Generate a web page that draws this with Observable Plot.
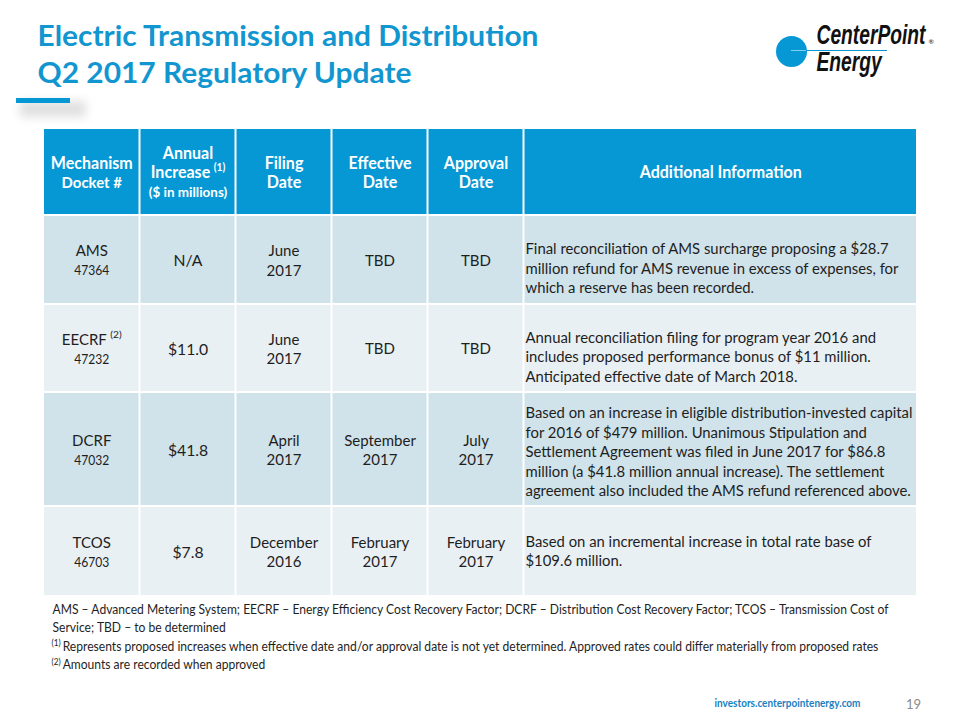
<!DOCTYPE html>
<html>
<head>
<meta charset="utf-8">
<script src="https://cdn.jsdelivr.net/npm/d3@7"></script>
<script src="https://cdn.jsdelivr.net/npm/@observablehq/plot@0.6"></script>
<style>
  html, body { margin: 0; padding: 0; background: #ffffff; }
  #chart svg { display: block; }
</style>
</head>
<body>
<div id="chart"></div>
<script>
// ---------------- DATA ----------------
const titleLines = ["Electric Transmission and Distribution", "Q2 2017 Regulatory Update"];
const headerMain = ["Mechanism", "Annual", "Filing", "Effective", "Approval", "Additional Information"];
const headerSecond = ["Docket #", "Increase", "Date", "Date", "Date", ""];
const headerThird = ["", "($ in millions)", "", "", "", ""];
const headerNotes = ["", "(1)", "", "", "", ""];
const mechanisms = ["AMS", "EECRF", "DCRF", "TCOS"];
const mechanismNotes = ["", "(2)", "", ""];
const dockets = ["47364", "47232", "47032", "46703"];
const annualIncrease = ["N/A", "$11.0", "$41.8", "$7.8"];
const filingDates = [["June", "2017"], ["June", "2017"], ["April", "2017"], ["December", "2016"]];
const effectiveDates = [["TBD"], ["TBD"], ["September", "2017"], ["February", "2017"]];
const approvalDates = [["TBD"], ["TBD"], ["July", "2017"], ["February", "2017"]];
const additionalInfo = [
  ["Final reconciliation of AMS surcharge proposing a $28.7",
   "million refund for AMS revenue in excess of expenses, for",
   "which a reserve has been recorded."],
  ["Annual reconciliation filing for program year 2016 and",
   "includes proposed performance bonus of $11 million.",
   "Anticipated effective date of March 2018."],
  ["Based on an increase in eligible distribution-invested capital",
   "for 2016 of $479 million. Unanimous Stipulation and",
   "Settlement Agreement was filed in June 2017 for $86.8",
   "million (a $41.8 million annual increase). The settlement",
   "agreement also included the AMS refund referenced above."],
  ["Based on an incremental increase in total rate base of",
   "$109.6 million."]
];
const glossaryLines = [
  "AMS \u2013 Advanced Metering System; EECRF \u2013 Energy Efficiency Cost Recovery Factor; DCRF \u2013 Distribution Cost Recovery Factor; TCOS \u2013 Transmission Cost of",
  "Service; TBD \u2013 to be determined"
];
const footnoteMarks = ["(1)", "(2)"];
const footnoteTexts = [
  "Represents proposed increases when effective date and/or approval date is not yet determined. Approved rates could differ materially from proposed rates",
  "Amounts are recorded when approved"
];
const logoWords = ["CenterPoint", "Energy"];
const footerUrl = "investors.centerpointenergy.com";
const pageNumber = "19";

// ---------------- LAYOUT / STYLE ----------------
const BLUE = "#0598d4";
const TITLE_BLUE = "#1296d0";
const ROW_DARK = "#d0e2ea";
const ROW_LIGHT = "#e9f0f4";
const INK = "#1e1e1e";
const FONT = "Lato, 'Open Sans', sans-serif";
const colEdges = [43, 139.5, 235.5, 331.5, 427.5, 523.5, 917];
const rowEdges = [128, 215, 304, 392, 506, 596];
const infoShift = [9, 9, 3, 0];
const infoX = 525;
const lineStep = 19.5;

// text measuring (font sizes / squeeze factors that fit the reference widths)
const ctx = document.createElement("canvas").getContext("2d");
function measure(text, size, weight = "normal", family = FONT, style = "normal") {
  ctx.font = `${style} ${weight} ${size}px ${family}`;
  return ctx.measureText(text).width;
}
const titleSize = 28;
const titleSqueeze = 501 / measure(titleLines[0], titleSize, "bold");
const headSize = 16.5;
const headSqueeze = Math.min(1, 82 / measure(headerMain[0], headSize, "bold"));
const cellSize = 15;
const cellSqueeze = Math.min(1, 79 / measure("September", cellSize));
const docketSize = 13.5;
const docketSqueeze = Math.min(1, 35 / measure(dockets[0], docketSize));
const infoSize = 15.5;
const infoSqueeze = 387 / measure(additionalInfo[2][0], infoSize);
const noteSize = 13.5;
const noteSqueeze = 836 / measure(glossaryLines[0], noteSize);
const urlSize = 12;
const urlSqueeze = 146 / measure(footerUrl, urlSize, "bold");
const logoSize = 27;
const LOGO_FONT = "'Liberation Sans', Arial, sans-serif";
const logoSqueeze = 109 / measure(logoWords[0], logoSize, "bold", LOGO_FONT, "italic");

// ---------------- BUILD CELLS ----------------
const cells = [];
for (let r = 0; r < rowEdges.length - 1; r++) {
  for (let c = 0; c < colEdges.length - 1; c++) {
    cells.push({
      x1: colEdges[c], x2: colEdges[c + 1], y1: rowEdges[r], y2: rowEdges[r + 1],
      fill: r === 0 ? BLUE : (r % 2 === 1 ? ROW_DARK : ROW_LIGHT)
    });
  }
}

// ---------------- BUILD TEXT ITEMS ----------------
const texts = [];
function T(x, y, text, o = {}) {
  const d = {x, y, text, size: +(o.size ?? cellSize).toFixed(2), weight: o.weight ?? "normal",
    fill: o.fill ?? INK, anchor: o.anchor ?? "middle", family: o.family ?? FONT,
    style: o.style ?? "normal", squeeze: o.squeeze ?? 1};
  d.width = measure(text, d.size, d.weight, d.family, d.style) * d.squeeze;
  texts.push(d);
  return d;
}
function withNote(cx, y, main, note, o, noteSize) {
  if (!note) { T(cx, y, main, o); return; }
  const sq = o.squeeze ?? 1;
  const gap = 3.5;
  const wm = measure(main, o.size, o.weight || "normal") * sq;
  const wn = measure(note, noteSize, o.weight || "normal") * sq;
  const start = cx - (wm + gap + wn) / 2;
  T(start, y, main, {...o, anchor: "start"});
  T(start + wm + gap, y - 5, note, {...o, size: noteSize, anchor: "start"});
}
const cx = c => (colEdges[c] + colEdges[c + 1]) / 2;
const cy = r => (rowEdges[r] + rowEdges[r + 1]) / 2 + 1;
const stackY = (n, center) => d3.range(n).map(i => center + (i - (n - 1) / 2) * lineStep);

// header
for (let c = 0; c < headerMain.length; c++) {
  const items = [
    {t: headerMain[c], size: headSize},
    {t: headerSecond[c], size: c === 0 ? headSize * 0.93 : headSize, note: headerNotes[c]},
    {t: headerThird[c], size: headSize * 0.84}
  ].filter(d => d.t);
  const ys = stackY(items.length, cy(0));
  items.forEach((d, i) => withNote(cx(c), ys[i], d.t, d.note,
    {size: d.size, weight: "bold", fill: "#ffffff", squeeze: headSqueeze}, headSize * 0.64));
}
// body rows
for (let r = 0; r < mechanisms.length; r++) {
  const row = r + 1, mid = cy(row);
  const y2 = stackY(2, mid);
  withNote(cx(0), y2[0], mechanisms[r], mechanismNotes[r], {size: cellSize, squeeze: cellSqueeze}, cellSize * 0.68);
  T(cx(0), y2[1], dockets[r], {size: docketSize, squeeze: docketSqueeze});
  T(cx(1), mid, annualIncrease[r], {size: cellSize * 1.05, squeeze: cellSqueeze});
  [filingDates, effectiveDates, approvalDates].forEach((arr, k) => {
    const lines = arr[r];
    const ys = stackY(lines.length, mid);
    lines.forEach((l, i) => T(cx(2 + k), ys[i], l, {size: cellSize, squeeze: cellSqueeze}));
  });
  const info = additionalInfo[r];
  const ys = stackY(info.length, mid - 1 + infoShift[r]);
  info.forEach((l, i) => T(infoX, ys[i], l, {size: infoSize, anchor: "start", squeeze: infoSqueeze}));
}
// title
T(37, 37, titleLines[0], {size: titleSize, weight: "bold", fill: TITLE_BLUE, anchor: "start", squeeze: titleSqueeze});
T(37, 74, titleLines[1], {size: titleSize, weight: "bold", fill: TITLE_BLUE, anchor: "start", squeeze: titleSqueeze});
// notes
T(52, 609, glossaryLines[0], {size: noteSize, anchor: "start", squeeze: noteSqueeze});
T(52, 627.5, glossaryLines[1], {size: noteSize, anchor: "start", squeeze: noteSqueeze});
footnoteMarks.forEach((m, i) => {
  const y = 646 + i * 18.5;
  const mk = T(51, y - 3, m, {size: noteSize * 0.68, anchor: "start", squeeze: noteSqueeze});
  T(51 + mk.width + 2, y, footnoteTexts[i], {size: noteSize, anchor: "start", squeeze: noteSqueeze});
});
// footer
T(714, 703, footerUrl, {size: urlSize, weight: "bold", fill: "#1a7fc1", anchor: "start", squeeze: urlSqueeze});
T(913, 704, pageNumber, {size: 13, fill: "#8c8c8c"});
// logo
T(816, 34.5, logoWords[0], {size: logoSize, weight: "bold", style: "italic", family: LOGO_FONT, fill: "#111", anchor: "start", squeeze: logoSqueeze});
T(816, 61.5, logoWords[1], {size: logoSize, weight: "bold", style: "italic", family: LOGO_FONT, fill: "#111", anchor: "start", squeeze: logoSqueeze});
T(928, 41, "\u00ae", {size: 6.5, fill: "#111", anchor: "start"});

// ---------------- MARKS ----------------
const textMarks = Array.from(
  d3.group(texts, d => [d.weight, d.anchor, d.family, d.style].join("|")),
  ([key, items]) => {
    const [weight, anchor, family, style] = key.split("|");
    return Plot.text(items, {
      x: "x", y: "y", text: "text", fill: "fill", fontSize: "size",
      fontWeight: weight, textAnchor: anchor, fontFamily: family, fontStyle: style,
      lineAnchor: "middle"
    });
  }
);

const logoCircle = [{x: 791, y: 51}];
const logoLine = [{x1: 791, x2: 887, y: 50}];
const titleBar = [{x1: 16, x2: 70, y1: 98, y2: 103}];
const titleShadow = [{x1: 20, x2: 86, y1: 101, y2: 117}];

const chart = Plot.plot({
  width: 960,
  height: 720,
  margin: 0,
  x: {domain: [0, 960], range: [0, 960], axis: null},
  y: {domain: [0, 720], range: [0, 720], axis: null},
  color: {type: "identity"},
  style: {background: "#ffffff", fontFamily: FONT},
  marks: [
    Plot.rect(titleShadow, {x1: "x1", x2: "x2", y1: "y1", y2: "y2", fill: "#000", fillOpacity: 0.12, imageFilter: "blur(5px)"}),
    Plot.rect(titleBar, {x1: "x1", x2: "x2", y1: "y1", y2: "y2", fill: BLUE}),
    Plot.rect(cells, {x1: "x1", x2: "x2", y1: "y1", y2: "y2", fill: "fill", inset: 1}),
    Plot.dot(logoCircle, {x: "x", y: "y", r: 15.5, fill: BLUE}),
    Plot.ruleY(logoLine, {x1: "x1", x2: "x2", y: "y", stroke: BLUE, strokeWidth: 1}),
    Plot.ruleY(logoLine, {x1: "x1", x2: d => d.x1 + 15, y: "y", stroke: "#7fd0f0", strokeWidth: 1}),
    ...textMarks
  ]
});

// apply horizontal squeeze (Calibri-like narrow setting) to text elements,
// matched by text content and font size
const keyOf = (t, s) => t + "|" + (+s).toFixed(2);
const byKey = d3.group(texts.filter(d => d.squeeze !== 1), d => keyOf(d.text, d.size));
d3.select(chart).selectAll("text").each(function () {
  const fs = this.getAttribute("font-size") || getComputedStyle(this).fontSize;
  const list = byKey.get(keyOf(this.textContent, parseFloat(fs)));
  if (list && list.length) {
    this.setAttribute("textLength", list[0].width.toFixed(2));
    this.setAttribute("lengthAdjust", "spacingAndGlyphs");
  }
});
document.getElementById("chart").appendChild(chart);
</script>
</body>
</html>
